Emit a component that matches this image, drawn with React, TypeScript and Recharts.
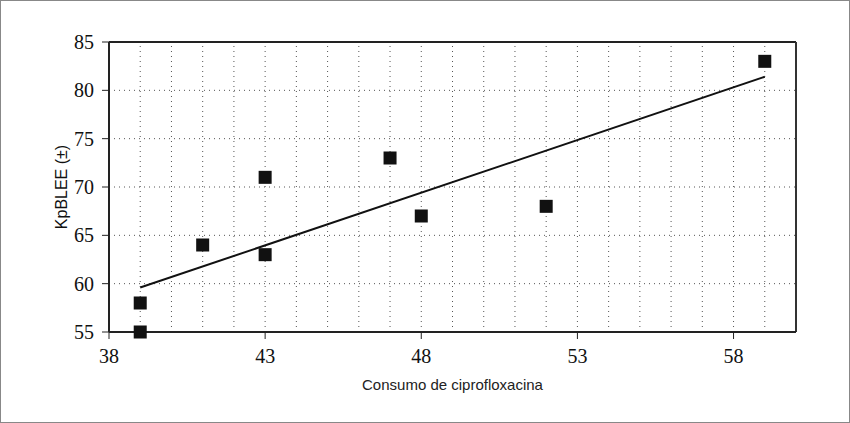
import React from "react";
import {
    ComposedChart,
    Scatter,
    XAxis,
    YAxis,
    CartesianGrid,
    ReferenceLine,
    Label,
} from "recharts";

// Observed points (consumo de ciprofloxacina vs KpBLEE)
const consumo = [39, 39, 41, 43, 43, 47, 48, 52, 59];
const kpblee = [55, 58, 64, 71, 63, 73, 67, 68, 83];

// Fitted trend line, end points
const trendX = [39, 59];
const trendY = [59.6, 81.4];

const xTicks = [38, 43, 48, 53, 58];
const yTicks = [55, 60, 65, 70, 75, 80, 85];
const xGrid = [39, 40, 41, 42, 43, 44, 45, 46, 47, 48, 49, 50, 51, 52, 53, 54, 55, 56, 57, 58, 59];

const points = consumo.map((x, i) => ({ x, y: kpblee[i] }));
const trend = trendX.map((x, i) => ({ x, y: trendY[i] }));

const serif = "'Liberation Serif', 'DejaVu Serif', serif";
const sans = "'Liberation Sans', Arial, sans-serif";

const XTick = ({ x, y, payload }: any) => (
    <text x={x} y={y + 22} textAnchor="middle" fill="#111" fontSize={20} fontFamily={serif}>
        {payload.value}
    </text>
);

const YTick = ({ x, y, payload }: any) => (
    <text x={x - 2} y={y + 7} textAnchor="end" fill="#111" fontSize={20} fontFamily={serif}>
        {payload.value}
    </text>
);

// filled square marker, 13px
const Square = ({ cx, cy }: any) => (
    <rect x={cx - 6.5} y={cy - 6.5} width={13} height={13} fill="#111" />
);

export default function App() {
    return (
        <div
            style={{
                position: "fixed",
                left: 0,
                top: 0,
                width: 850,
                height: 423,
                background: "#fff",
                border: "1px solid #888",
                boxSizing: "border-box",
            }}
        >
            <ComposedChart
                width={848}
                height={421}
                margin={{ top: 41, right: 53, bottom: 30, left: 0 }}
                style={{ position: "absolute", left: 0, top: 0 }}
            >
                <CartesianGrid vertical={false} stroke="#555" strokeDasharray="1 4" />
                {xGrid.map((v) => (
                    <ReferenceLine key={v} x={v} stroke="#555" strokeDasharray="1 4" />
                ))}
                <ReferenceLine y={85} stroke="#222" strokeWidth={2} />
                <ReferenceLine x={60} stroke="#333" strokeWidth={2} />
                <XAxis
                    type="number"
                    dataKey="x"
                    domain={[38, 60]}
                    ticks={xTicks}
                    height={60}
                    tick={<XTick />}
                    tickSize={7}
                    axisLine={{ stroke: "#222", strokeWidth: 2 }}
                    tickLine={{ stroke: "#222" }}
                >
                    <Label
                        value="Consumo de ciprofloxacina"
                        position="insideBottom"
                        offset={2}
                        style={{ fill: "#222", fontSize: 15, fontFamily: sans }}
                    />
                </XAxis>
                <YAxis
                    type="number"
                    dataKey="y"
                    domain={[55, 85]}
                    ticks={yTicks}
                    width={108}
                    tick={<YTick />}
                    tickSize={7}
                    tickMargin={6}
                    axisLine={{ stroke: "#222", strokeWidth: 2 }}
                    tickLine={{ stroke: "#222" }}
                >
                    <Label
                        value="KpBLEE (±)"
                        angle={-90}
                        position="insideLeft"
                        offset={60}
                        style={{ fill: "#111", fontSize: 16, fontFamily: sans, textAnchor: "middle" }}
                    />
                </YAxis>
                <Scatter
                    data={trend}
                    line={{ stroke: "#111", strokeWidth: 2 }}
                    shape={() => null}
                    isAnimationActive={false}
                />
                <Scatter data={points} shape={<Square />} isAnimationActive={false} />
            </ComposedChart>
        </div>
    );
}
